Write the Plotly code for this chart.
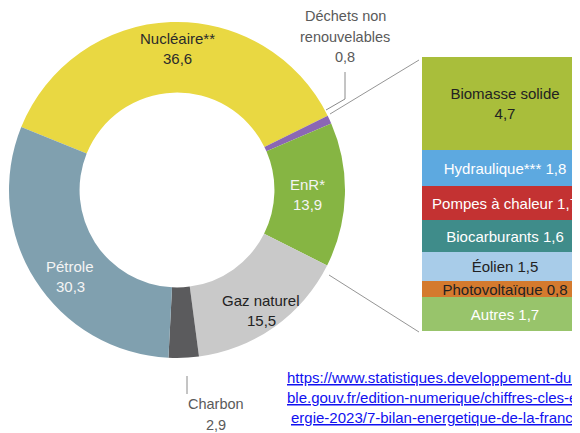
import plotly.graph_objects as go

# ---- Data ----
mix_labels = ["Nucléaire**", "Déchets non renouvelables", "EnR*", "Gaz naturel", "Charbon", "Pétrole"]
mix_values = [36.6, 0.8, 13.9, 15.5, 2.9, 30.3]
mix_colors = ["#E9D842", "#8B67B4", "#86B543", "#C9C9C9", "#5B5B5D", "#80A0AF"]

enr_labels = ["Biomasse solide", "Hydraulique***", "Pompes à chaleur", "Biocarburants",
              "Éolien", "Photovoltaïque", "Autres"]
enr_values = [4.7, 1.8, 1.7, 1.6, 1.5, 0.8, 1.7]
enr_colors = ["#A9BE3B", "#5DA9E0", "#C33232", "#3F8C8A", "#A8CCE9", "#D47A2E", "#98C46B"]
enr_text_colors = ["#222222", "white", "white", "white", "#222222", "#222222", "white"]

source_lines = ["https://www.statistiques.developpement-dura",
                "ble.gouv.fr/edition-numerique/chiffres-cles-en",
                "ergie-2023/7-bilan-energetique-de-la-france"]

W, H = 580, 433
OFF = 8  # page body margin offset
FONT = "Liberation Sans, Arial, sans-serif"


def fr(v):
    return f"{v:.1f}".replace(".", ",")


def px(x, y):
    return (x - OFF) / W, 1 - (y - OFF) / H


fig = go.Figure()

# ---- Donut ----
cx, cy, r = 177, 190, 168
x0, y1 = px(cx - r, cy - r)
x1, y0 = px(cx + r, cy + r)
fig.add_trace(go.Pie(
    labels=mix_labels, values=mix_values, sort=False, direction="clockwise",
    rotation=292, hole=0.58, marker=dict(colors=mix_colors, line=dict(width=0)),
    textinfo="none", showlegend=False, hoverinfo="label+value",
    domain=dict(x=[max(0, x0), x1], y=[y0, y1]),
))

# ---- Stacked bar for EnR breakdown ----
total = sum(enr_values)
for lab, val, col, tcol in zip(enr_labels, enr_values, enr_colors, enr_text_colors):
    txt = f"{lab}<br>{fr(val)}" if val == max(enr_values) else f"{lab} {fr(val)}"
    fig.add_trace(go.Bar(
        x=[0], y=[val], width=[1], marker=dict(color=col, line=dict(width=0)),
        text=[txt], textposition="inside", insidetextanchor="middle", textangle=0,
        constraintext="none", textfont=dict(color=tcol, size=15, family=FONT),
        showlegend=False, hoverinfo="skip", xaxis="x", yaxis="y",
    ))

bx0, by1 = px(422, 57)
_, by0 = px(422, 331)
fig.update_layout(
    barmode="stack", bargap=0,
    width=W, height=H, margin=dict(l=0, r=0, t=0, b=0),
    paper_bgcolor="white", plot_bgcolor="white",
    font=dict(family=FONT, size=15, color="#333333"),
    xaxis=dict(domain=[bx0, 1.0], range=[-0.5, 0.5], visible=False, fixedrange=True),
    yaxis=dict(domain=[by0, by1], range=[total, 0], visible=False, fixedrange=True),
)

annotations = []


def label(lines, x, y0, color, dy=20.5, size=15):
    for i, t in enumerate(lines):
        xx, yy = px(x, y0 + i * dy)
        annotations.append(dict(text=t, x=xx, y=yy, xref="paper", yref="paper",
                                showarrow=False, xanchor="center", yanchor="middle",
                                font=dict(color=color, size=size, family=FONT)))


label([mix_labels[0], fr(mix_values[0])], 178, 38, "#2B2B2B")
label(["Déchets non", "renouvelables", fr(mix_values[1])], 345, 16, "#5A5A5A", size=14.5)
label([mix_labels[2], fr(mix_values[2])], 307, 184, "#F4F4F4")
label([mix_labels[3], fr(mix_values[3])], 261, 300, "#222222")
label([mix_labels[4], fr(mix_values[4])], 216, 404, "#5A5A5A", size=14.5)
label([mix_labels[5], fr(mix_values[5])], 70, 266, "#F4F4F4")

for i, t in enumerate(source_lines):
    xx, yy = px(436, 377 + i * 20)
    annotations.append(dict(text=f"<u>{t}</u>", x=xx, y=yy, xref="paper", yref="paper",
                            showarrow=False, xanchor="center", yanchor="middle",
                            font=dict(color="#1010F0", size=15, family=FONT)))

fig.update_layout(annotations=annotations)


def seg(xa, ya, xb, yb, color="#8A8A8A", w=1):
    a0, b0 = px(xa, ya)
    a1, b1 = px(xb, yb)
    return dict(type="line", xref="paper", yref="paper", x0=a0, y0=b0, x1=a1, y1=b1,
                line=dict(color=color, width=w))


fig.update_layout(shapes=[
    seg(345, 72, 345, 99),
    seg(345, 99, 326, 110),
    seg(330, 114, 419, 60, "#7A7A7A", 0.8),
    seg(329, 275, 419, 332, "#7A7A7A", 0.8),
    seg(187, 376, 187, 394),
])

fig.write_html("out.html")
